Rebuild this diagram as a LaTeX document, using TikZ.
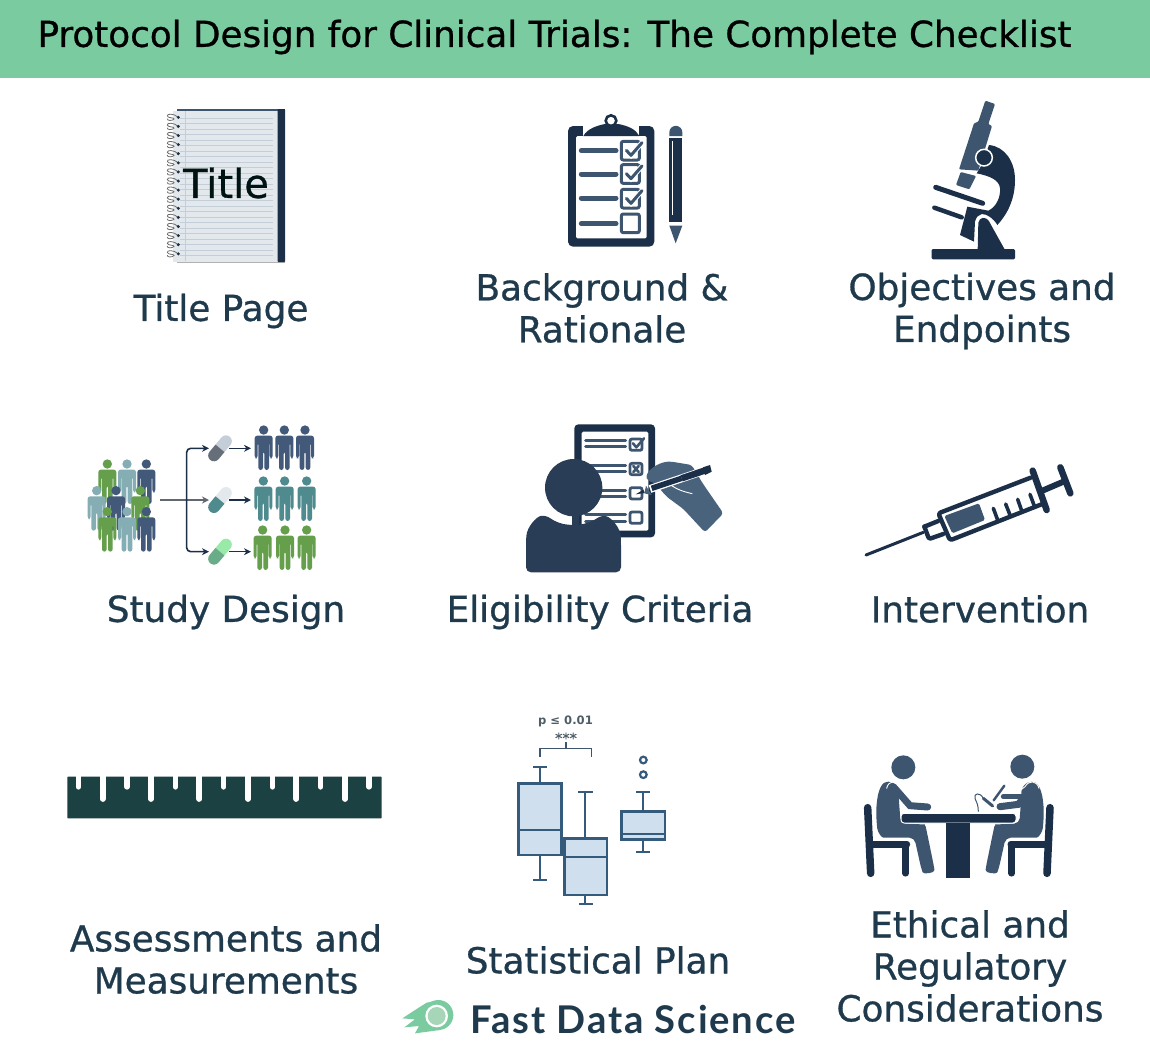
\documentclass[tikz,border=0pt]{standalone}
\usepackage{fontspec}
\setmainfont{DejaVu Sans}
\newfontfamily\labfont[FakeBold=0.8]{DejaVu Sans}
\newfontfamily\logofont[LetterSpace=5]{Lato}
\usetikzlibrary{arrows.meta}
\definecolor{hdr}{HTML}{7ACB9F}
\definecolor{lab}{HTML}{1F3A4C}
\definecolor{navy}{HTML}{1B2F48}
\definecolor{slate}{HTML}{3E5570}
\definecolor{pnavy}{HTML}{43597A}
\definecolor{pteal}{HTML}{4F8A8E}
\definecolor{pgreen}{HTML}{659F4C}
\definecolor{plight}{HTML}{84AEB3}
\definecolor{boxfill}{HTML}{D0DFEE}
\definecolor{boxline}{HTML}{345A7C}
\definecolor{rulerc}{HTML}{1C4143}
\definecolor{pagec}{HTML}{E3E8EC}
\definecolor{pageline}{HTML}{C3CED8}
\definecolor{bodyc}{HTML}{2A3D56}
\definecolor{handc}{HTML}{4A637D}
\tikzset{
  label text/.style={text=lab,font=\labfont\fontsize{35.8}{42}\selectfont,align=center,inner sep=0pt},
  zoomed/.style={shift={(#1)},scale=0.33333},
  flow/.style={line width=1.6pt,draw=navy,-{Stealth[length=7pt,width=7pt]}},
  chk/.style={line width=3pt,draw=slate,rounded corners=2pt},
  tickm/.style={line width=3pt,draw=slate,line cap=round,line join=round},
  txtline/.style={line width=5pt,draw=slate,line cap=round},
  boxs/.style={line width=2.4pt,draw=boxline,fill=boxfill},
  whisk/.style={line width=2.2pt,draw=boxline},
  syr/.style={line width=4.4pt,draw=navy,line cap=round,line join=round},
}
\newcommand{\Person}[3]{%
  \begin{scope}[shift={(#1,#2)}]
  \fill[#3] (0,0) circle[radius=14];
  \fill[#3,rounded corners=2.5pt] (-27,85) -- (-27,17) -- (27,17) -- (27,85) -- (18,85) -- (18,37) -- (16,37) -- (16,120) -- (2,120) -- (2,64) -- (-2,64) -- (-2,120) -- (-16,120) -- (-16,37) -- (-18,37) -- (-18,85) -- cycle;
  \end{scope}}
\newcommand{\Pill}[4]{%
  \begin{scope}[shift={(#1,#2)},rotate=50]
  \fill[#3] (0,-17.5) -- (28,-17.5) arc[start angle=-90,end angle=90,radius=17.5] -- (0,17.5) -- cycle;
  \fill[#4] (0,-17.5) -- (-28,-17.5) arc[start angle=-90,end angle=-270,radius=17.5] -- (0,17.5) -- cycle;
  \end{scope}}
\newcommand{\Sitter}{%
  \fill[slate,rounded corners=5pt] (100,105) .. controls (70,125) and (62,170) .. (65,235) .. controls (68,262) and (80,278) .. (100,278) -- (178,278) -- (198,368) .. controls (205,388) and (240,385) .. (236,360) -- (215,258) .. controls (212,245) and (205,238) .. (195,238) -- (137,235) -- (132,170) -- (130,125) -- cycle;}
\begin{document}
\begin{tikzpicture}[x=1pt,y=-1pt]
\useasboundingbox (0,0) rectangle (1150,1052);
\fill[white] (0,0) rectangle (1150,1052);
\fill[hdr] (0,0) rectangle (1150,77.5);
\node[text=black,font=\labfont\fontsize{35.75}{42}\selectfont,inner sep=0pt] (heading) at (554.5,37) {Protocol Design for Clinical Trials: The Complete Checklist};

% ---------- notebook
\begin{scope}[zoomed={150,90}]
  \fill[slate] (82,56) rectangle (405,64);
  \fill[pagec] (68,62) rectangle (385,515);
  \fill[gray!60] (82,515) rectangle (405,518);
  \fill[navy,rounded corners=0.6pt] (383,57) rectangle (405,516);
  \foreach \yy in {84,100.5,...,500} \draw[pageline,line width=0.7pt] (90,\yy) -- (370,\yy);
  \draw[pageline,line width=0.5pt] (106,64) -- (106,514);
  \foreach \i in {0,...,15} {
    \pgfmathsetmacro{\yy}{82+27.3*\i}
    \draw[gray!85!black,line width=0.8pt] (85,\yy) .. controls (72,\yy-12) and (50,\yy-12) .. (52,\yy-4) .. controls (54,\yy+3) and (72,\yy) .. (72,\yy+5) .. controls (68,\yy+11) and (50,\yy+11) .. (52,\yy+4);
    \fill[navy] (85,\yy) circle[radius=5];
  }
\end{scope}
\node[text=black!85!teal,font=\labfont\fontsize{40}{44}\selectfont,inner sep=0pt] (titleword) at (226,183) {Title};

% ---------- clipboard and pencil
\begin{scope}[zoomed={550,100}]
  \fill[navy,rounded corners=5pt] (54,78) rectangle (313,440);
  \fill[white,rounded corners=1.5pt] (78,108) rectangle (290,415);
  \fill[white] (100,70) rectangle (268,110);
  \fill[navy] (100,108) .. controls (112,85) and (145,76) .. (165,72) -- (205,72) .. controls (235,78) and (258,88) .. (268,108) -- cycle;
  \draw[navy,line width=2.6pt,fill=white] (183,62) circle[radius=16];
  \foreach \yy in {152,222,294,371} \draw[txtline] (94,\yy) -- (198,\yy);
  \foreach \yt in {124,194,268,342} \draw[chk] (214,\yt) rectangle (268,\yt+56);
  \foreach \yt in {124,194,268} {
    \draw[white,line width=5pt] (229,\yt+27) -- (243,\yt+42) -- (276,\yt+4);
    \draw[tickm] (229,\yt+27) -- (243,\yt+42) -- (276,\yt+4);
  }
  \fill[slate] (358,108) -- (358,97) arc[start angle=180,end angle=360,radius=19.5] -- (397,108) -- cycle;
  \fill[navy] (358,115) rectangle (397,365);
  \fill[white] (365,122) rectangle (370,345);
  \fill[slate] (358,377) -- (397,377) -- (377,430) -- cycle;
\end{scope}
\node[label text] (background) at (602,308) {Background \&\\Rationale};

% ---------- microscope
\begin{scope}[zoomed={910,90}]
  \fill[navy] (237,165) .. controls (285,170) and (315,215) .. (315,270) .. controls (315,330) and (290,375) .. (262,405) .. controls (250,385) and (232,372) .. (215,372) .. controls (205,374) and (198,382) .. (195,395) -- (192,455) -- (150,435) -- (172,350) -- (235,362) .. controls (260,350) and (272,320) .. (270,295) .. controls (268,270) and (240,258) .. (200,250) -- (215,225) -- cycle;
  \fill[slate,rounded corners=1pt] (226,32) -- (255,42) -- (235,102) -- (246,108) -- (205,242) -- (147,238) -- (192,100) -- (205,95) -- cycle;
  \fill[slate,rounded corners=1pt] (152,246) -- (198,258) -- (178,298) -- (138,285) -- cycle;
  \draw[white,line width=1.5pt,fill=navy] (222,203) circle[radius=25];
  \draw[navy,line width=5pt,line cap=round] (77,292) -- (218,340);
  \draw[navy,line width=4.5pt,line cap=round] (73,353) -- (155,382);
  \fill[navy] (203,480) -- (205,398) .. controls (208,380) and (228,380) .. (236,392) -- (285,480) -- cycle;
  \fill[navy,rounded corners=1.3pt] (65,477) rectangle (315,508);
\end{scope}
\node[label text] (objectives) at (982,311) {Objectives and\\Endpoints};

% ---------- study design
\begin{scope}[zoomed={80,415}]
  \Person{82}{147}{pgreen}
  \Person{141}{147}{plight}
  \Person{199}{147}{pnavy}
  \Person{50}{227}{plight}
  \Person{108}{227}{pnavy}
  \Person{181}{227}{pgreen}
  \Person{82}{290}{pgreen}
  \Person{141}{290}{plight}
  \Person{199}{290}{pnavy}
  \foreach \xx in {551,613,675} {\Person{\xx}{45}{pnavy}}
  \foreach \xx in {550,614,680} {\Person{\xx}{198}{pteal}}
  \foreach \xx in {548,615,680} {\Person{\xx}{345}{pgreen}}
  \Pill{420}{100}{pageline}{gray!60!slate}
  \Pill{420}{255}{pagec}{pteal}
  \Pill{420}{410}{green!30!hdr!60}{hdr!85!black}
  \coordinate (crowd) at (240,255);
  \coordinate (fork) at (320,255);
  \coordinate (pillina) at (387,100);
  \coordinate (pillinb) at (387,255);
  \coordinate (pillinc) at (387,410);
  \coordinate (pillouta) at (448,100);
  \coordinate (pilloutb) at (448,255);
  \coordinate (pilloutc) at (448,410);
  \coordinate (groupa) at (513,100);
  \coordinate (groupb) at (513,255);
  \coordinate (groupc) at (513,410);
\end{scope}
\draw[flow,draw=gray!70!navy] (crowd) -- (pillinb);
\draw[flow,rounded corners=4pt] (fork) |- (pillina);
\draw[flow,rounded corners=4pt] (fork) |- (pillinc);
\draw[flow] (pillouta) -- (groupa);
\draw[flow] (pilloutb) -- (groupb);
\draw[flow] (pilloutc) -- (groupc);
\node[label text] (studydesign) at (226,612) {Study Design};

% ---------- eligibility
\begin{scope}[zoomed={515,415}]
  \fill[navy,rounded corners=4pt] (178,28) rectangle (420,367);
  \fill[white,rounded corners=1.5pt] (200,50) rectangle (400,347);
  \foreach \yy in {75,95,152,170,225,243,297,318} \draw[slate,line width=3pt,line cap=round] (212,\yy) -- (332,\yy);
  \foreach \yt in {72,145,218,291} \draw[chk,line width=2.8pt] (345,\yt) rectangle (381,\yt+34);
  \draw[tickm,line width=2.6pt] (354,85) -- (364,97) -- (387,70);
  \draw[tickm,line width=2.6pt] (355,153) -- (371,171) (371,153) -- (355,171);
  \fill[handc,rounded corners=3pt] (393,182) .. controls (410,155) and (440,140) .. (470,140) -- (530,150) -- (563,205) -- (625,295) -- (570,352) -- (505,282) -- (455,245) -- (420,205) -- (397,196) -- cycle;
  \draw[white,line width=0.9pt] (470,212) .. controls (495,228) and (515,232) .. (532,236);
  \draw[white,line width=8pt] (580,163) -- (405,222);
  \draw[navy,line width=6.5pt] (580,163) -- (500,190);
  \draw[navy,line width=5.5pt] (500,190) -- (410,220);
  \fill[navy] (564,157) -- (585,150) -- (590,170) -- (570,180) -- cycle;
  \fill[handc] (393,212) -- (410,240) -- (388,235) -- cycle;
  \fill[navy] (362,238) -- (385,224) -- (389,234) -- cycle;
  \fill[bodyc] (172,290) rectangle (192,340);
  \fill[bodyc] (176,218) circle[radius=86];
  \fill[bodyc,rounded corners=5pt] (33,472) -- (33,378) .. controls (36,335) and (65,305) .. (92,300) .. controls (120,320) and (140,328) .. (175,330) .. controls (210,328) and (235,318) .. (260,300) .. controls (290,308) and (316,340) .. (318,378) -- (318,472) -- cycle;
\end{scope}
\node[label text] (eligibility) at (600,612) {Eligibility Criteria};

% ---------- syringe
\begin{scope}[zoomed={855,455}]
  \fill[slate,rounded corners=1.5pt] (268,183) -- (372,145) -- (390,195) -- (292,235) -- cycle;
  \draw[syr,rounded corners=2.5pt] (527,68) -- (250,175) -- (285,256) -- (562,147);
  \draw[syr] (208,215) -- (250,198);
  \draw[syr,rounded corners=1.5pt] (208,215) -- (222,252) -- (265,237);
  \draw[syr,line width=6.5pt] (533,47) -- (575,165);
  \draw[syr,line width=6pt] (560,108) -- (630,78);
  \draw[syr,line width=6.5pt] (616,37) -- (646,115);
  \draw[syr,line width=3pt] (33,300) -- (205,232);
  \foreach \a/\b/\c/\d in {415/160/428/195,452/147/465/180,488/133/500/167,525/118/538/153}
    \draw[syr,line width=3.6pt] (\a,\b) -- (\c,\d);
\end{scope}
\node[label text] (intervention) at (980,609) {Intervention};

% ---------- ruler
\begin{scope}[zoomed={60,770}]
  \fill[rulerc,rounded corners=0.7pt] (22,20) rectangle (965,145);
  \foreach \xx in {55,201,346,491,637,782,927} \draw[white,line width=5.2pt,line cap=round] (\xx,10) -- (\xx,51);
  \foreach \xx in {128,273,418,564,709,855} \draw[white,line width=5.7pt,line cap=round] (\xx,10) -- (\xx,87);
\end{scope}
\node[label text] (assessments) at (226,959) {Assessments and\\Measurements};

% ---------- box plot
\begin{scope}[zoomed={505,705}]
  \draw[draw=slate,line width=1.3pt] (105,155) -- (105,130) -- (260,130) -- (260,155);
  \draw[draw=slate,line width=1.3pt] (183,130) -- (183,112);
  \draw[whisk] (105,236) -- (105,185) (85,185) -- (127,185) (105,450) -- (105,526) (85,526) -- (127,526);
  \draw[boxs] (41,236) rectangle (170,450);
  \draw[whisk] (41,376) -- (170,376);
  \draw[whisk] (241,401) -- (241,262) (220,262) -- (263,262) (241,570) -- (241,597) (222,597) -- (264,597);
  \draw[boxs] (178,401) rectangle (306,570);
  \draw[whisk] (178,455) -- (306,455);
  \draw[whisk] (415,319) -- (415,262) (393,262) -- (436,262) (415,404) -- (415,442) (393,442) -- (436,442);
  \draw[boxs] (350,319) rectangle (480,404);
  \draw[whisk] (350,388) -- (480,388);
  \draw[boxline,line width=2.2pt] (415,165) circle[radius=10];
  \draw[boxline,line width=2.2pt] (415,209) circle[radius=10];
\end{scope}
\node[text=gray!50!lab,font=\bfseries\fontsize{11.6}{15}\selectfont,inner sep=0pt] (pvalue) at (565.5,721) {p ≤ 0.01};
\node[text=gray!50!lab,font=\labfont\fontsize{14.5}{15}\selectfont,inner sep=0pt] (stars) at (566,738) {***};
\node[label text] (statplan) at (598,960) {Statistical Plan};

% ---------- meeting
\begin{scope}[zoomed={855,745}]
  \draw[navy,line width=7.5pt,line cap=round] (38,188) -- (47,385);
  \draw[navy,line width=6.5pt,line cap=round] (152,298) -- (152,385);
  \draw[navy,line width=7pt,line cap=round] (48,297) -- (155,297);
  \draw[navy,line width=7.5pt,line cap=round] (585,188) -- (576,385);
  \draw[navy,line width=6.5pt,line cap=round] (470,298) -- (470,385);
  \draw[navy,line width=7pt,line cap=round] (468,297) -- (576,297);
  \Sitter
  \begin{scope}[shift={(630,0)},xscale=-1]\Sitter\end{scope}
  \fill[slate] (145,67) circle[radius=36];
  \fill[slate] (502,65) circle[radius=36];
  \draw[white,line width=0.9pt,line cap=round] (95,130) .. controls (100,105) and (125,105) .. (135,125) -- (168,163);
  \draw[slate,line width=7pt,line cap=round] (115,125) -- (165,182) -- (218,186);
  \draw[white,line width=0.9pt,line cap=round] (552,130) .. controls (545,105) and (522,105) .. (510,125) -- (478,150) -- (440,150);
  \draw[slate,line width=7pt,line cap=round] (530,128) -- (490,178) -- (435,185);
  \draw[slate,line width=5pt,line cap=round] (500,155) -- (445,155);
  \draw[slate,line width=2.4pt,line cap=round] (448,122) -- (416,166);
  \draw[slate,line width=3pt,line cap=round] (385,160) -- (413,183);
  \draw[slate,line width=1pt] (385,160) .. controls (375,140) and (355,145) .. (360,160) .. controls (365,172) and (370,180) .. (370,200);
  \draw[white,line width=1pt,fill=navy,rounded corners=3pt] (138,205) rectangle (483,234);
  \fill[navy] (273,233) rectangle (345,398);
\end{scope}
\node[label text] (ethical) at (970,966) {Ethical and\\Regulatory\\Considerations};

% ---------- logo
\begin{scope}[zoomed={395,990}]
  \fill[hdr] (135,30) -- (95,38) -- (68,55) -- (22,85) -- (60,88) -- (28,112) -- (72,108) -- (60,130) -- (135,120) -- cycle;
  \fill[hdr] (130,75) circle[radius=45];
  \fill[white] (125,78) circle[radius=34];
  \fill[green!15!pageline] (125,78) circle[radius=27];
\end{scope}
\node[text=lab,font=\logofont\bfseries\fontsize{38.2}{40}\selectfont,inner sep=0pt] (logotext) at (633,1019) {Fast Data Science};
\node[label text] (titlepage) at (221,311) {Title Page};
\end{tikzpicture}
\end{document}
